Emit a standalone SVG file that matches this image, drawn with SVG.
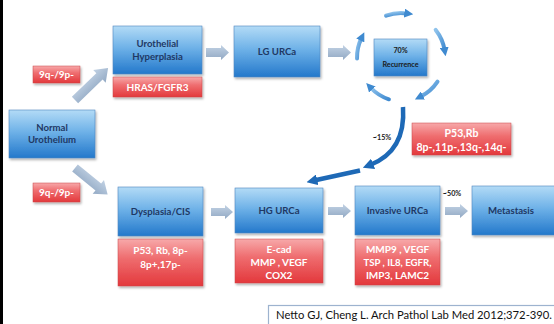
<svg xmlns="http://www.w3.org/2000/svg" width="554" height="324" viewBox="0 0 554 324">
<style>
.bt{font-family:Lato,"Liberation Sans",sans-serif;font-weight:bold;font-size:9.6px;fill:#1f3864;text-anchor:middle}
.rt{font-family:Lato,"Liberation Sans",sans-serif;font-weight:bold;font-size:10px;fill:#ffffff;text-anchor:middle}
.sm{font-family:Lato,"Liberation Sans",sans-serif;font-weight:bold;font-size:7.2px;fill:#1a1a1a;text-anchor:middle}
.cite{font-family:Lato,"Liberation Sans",sans-serif;font-size:11px;fill:#111111}
.bb{fill:url(#gBlue);stroke:#4f86bf;stroke-width:0.6;filter:url(#sh)}
.rb{fill:url(#gRed);stroke:#c9464a;stroke-width:0.5;filter:url(#sh)}
.ba{fill:url(#gArr)}
.cyc{fill:none;stroke:url(#gCyc);stroke-width:4;stroke-linecap:round;marker-end:url(#mCyc)}
.dk{fill:none;stroke:#1e69b6;stroke-width:4.5;marker-end:url(#mDk)}
</style>
<defs>
<linearGradient id="gBlue" x1="0" y1="0" x2="0" y2="1">
<stop offset="0" stop-color="#b3dbf6"/>
<stop offset="0.45" stop-color="#6fb2e8"/>
<stop offset="1" stop-color="#2378cb"/>
</linearGradient>
<linearGradient id="gRed" x1="0" y1="0" x2="0" y2="1">
<stop offset="0" stop-color="#f7a9aa"/>
<stop offset="0.4" stop-color="#ef6e70"/>
<stop offset="1" stop-color="#e3383c"/>
</linearGradient>
<linearGradient id="gArr" x1="0" y1="0" x2="0" y2="1">
<stop offset="0" stop-color="#c2d2e4"/>
<stop offset="1" stop-color="#92a9c4"/>
</linearGradient>
<linearGradient id="gCyc" x1="0" y1="0" x2="1" y2="1">
<stop offset="0" stop-color="#8fc3ec"/>
<stop offset="1" stop-color="#3f8ad0"/>
</linearGradient>
<filter id="sh" x="-10%" y="-10%" width="125%" height="135%">
<feDropShadow dx="1.2" dy="1.8" stdDeviation="1.2" flood-color="#000" flood-opacity="0.3"/>
</filter>
<marker id="mCyc" viewBox="0 0 10 10" refX="3" refY="5" markerWidth="9" markerHeight="9" markerUnits="userSpaceOnUse" orient="auto">
<path d="M0,0 L10,5 L0,10 Z" fill="#3f8ad0"/>
</marker>
<marker id="mDk" viewBox="0 0 10 10" refX="3" refY="5" markerWidth="11" markerHeight="11" markerUnits="userSpaceOnUse" orient="auto">
<path d="M0,0 L10,5 L0,10 Z" fill="#1e69b6"/>
</marker>
</defs>
<rect x="0" y="0" width="554" height="324" fill="#ffffff"/>
<rect x="0" y="0" width="3" height="324" fill="#000000"/>

<g id="connectors">
<path class="ba" d="M206,48 L221,48 L221,45 L229,52.5 L221,60 L221,57 L206,57 Z"/>
<path class="ba" d="M328,48 L343,48 L343,45 L351,52.5 L343,60 L343,57 L328,57 Z"/>
<path class="ba" d="M211,208 L225,208 L225,205 L233,212 L225,219 L225,216 L211,216 Z"/>
<path class="ba" d="M328,207 L343,207 L343,204 L351,211 L343,218 L343,215 L328,215 Z"/>
<path class="ba" d="M445,207 L460,207 L460,204 L468,211 L460,218 L460,215 L445,215 Z"/>
<path class="ba" transform="translate(75,100) rotate(-44)" d="M0,-4.5 L34,-4.5 L34,-9 L46,0 L34,9 L34,4.5 L0,4.5 Z"/>
<path class="ba" transform="translate(75,168) rotate(39)" d="M0,-4.5 L30,-4.5 L30,-9 L42,0 L30,9 L30,4.5 L0,4.5 Z"/>
<path class="cyc" d="M386,15.6 A44,44 0 0 1 407,13.4"/>
<path class="cyc" d="M435.7,29.9 A44,44 0 0 1 444.6,50"/>
<path class="cyc" d="M437.5,81.6 A44,44 0 0 1 420.5,96.6"/>
<path class="cyc" d="M388.9,99.3 A44,44 0 0 1 370.5,87.5"/>
<path class="cyc" d="M357,58.5 A44,44 0 0 1 361.5,38"/>
<path class="dk" d="M403,107 Q406,151 370,165"/>
<path class="dk" d="M360,170.5 L314,180.5"/>
</g>

<g id="normal">
<rect class="bb" x="9" y="110" width="86" height="48"/>
<text class="bt" x="52" y="131">Normal</text>
<text class="bt" x="52" y="143">Urothelium</text>
</g>
<g id="lbl-9q-top">
<rect class="rb" x="33" y="66" width="47" height="17"/>
<text class="rt" x="56.5" y="78">9q-/9p-</text>
</g>
<g id="hyperplasia">
<rect class="bb" x="113" y="26" width="89" height="48"/>
<text class="bt" x="157.5" y="47">Urothelial</text>
<text class="bt" x="157.5" y="60">Hyperplasia</text>
</g>
<g id="hras">
<rect class="rb" x="113" y="77" width="89" height="20"/>
<text class="rt" x="157.5" y="90.5">HRAS/FGFR3</text>
</g>
<g id="lg">
<rect class="bb" x="234" y="26" width="86" height="51"/>
<text class="bt" x="277" y="55">LG URCa</text>
</g>
<g id="recurrence">
<rect class="bb" x="374" y="39" width="53" height="37"/>
<text class="sm" x="400.5" y="53">70%</text>
<text class="sm" x="400.5" y="67">Recurrence</text>
</g>
<g id="lbl-15">
<text class="sm" x="382" y="140">~15%</text>
</g>
<g id="p53rb">
<rect class="rb" x="412" y="123" width="99" height="32"/>
<text class="rt" x="461.5" y="137" style="font-size:10.5px">P53,Rb</text>
<text class="rt" x="461.5" y="151" style="font-size:10.5px" textLength="90" lengthAdjust="spacingAndGlyphs">8p-,11p-,13q-,14q-</text>
</g>
<g id="lbl-9q-bottom">
<rect class="rb" x="33" y="183" width="47" height="19"/>
<text class="rt" x="56.5" y="196">9q-/9p-</text>
</g>
<g id="dysplasia">
<rect class="bb" x="118" y="187" width="85" height="49"/>
<text class="bt" x="160.5" y="215">Dysplasia/CIS</text>
</g>
<g id="dys-markers">
<rect class="rb" x="118" y="239" width="85" height="47"/>
<text class="rt" x="160.5" y="254">P53, Rb, 8p-</text>
<text class="rt" x="160.5" y="268">8p+,17p-</text>
</g>
<g id="hg">
<rect class="bb" x="235" y="188" width="88" height="45"/>
<text class="bt" x="279" y="214">HG URCa</text>
</g>
<g id="hg-markers">
<rect class="rb" x="235" y="239" width="88" height="44"/>
<text class="rt" x="279" y="252.5">E-cad</text>
<text class="rt" x="279" y="265.5">MMP , VEGF</text>
<text class="rt" x="279" y="278.5">COX2</text>
</g>
<g id="invasive">
<rect class="bb" x="355" y="186" width="85" height="49"/>
<text class="bt" x="397.5" y="214">Invasive URCa</text>
</g>
<g id="inv-markers">
<rect class="rb" x="355" y="239" width="85" height="46"/>
<text class="rt" x="397.5" y="252.5">MMP9 , VEGF</text>
<text class="rt" x="397.5" y="265.5" textLength="68" lengthAdjust="spacingAndGlyphs">TSP , IL8, EGFR,</text>
<text class="rt" x="397.5" y="278.5">IMP3, LAMC2</text>
</g>
<g id="lbl-50">
<text class="sm" x="452" y="196">~50%</text>
</g>
<g id="metastasis">
<rect class="bb" x="472" y="186" width="90" height="49"/>
<text class="bt" x="511" y="214">Metastasis</text>
</g>
<g id="citation">
<rect x="268.5" y="305.5" width="295" height="30" fill="#ffffff" stroke="#9db3cf" stroke-width="1.2"/>
<text class="cite" x="276" y="319" textLength="276" lengthAdjust="spacingAndGlyphs">Netto GJ, Cheng L. Arch Pathol Lab Med 2012;372-390.</text>
</g>
</svg>
